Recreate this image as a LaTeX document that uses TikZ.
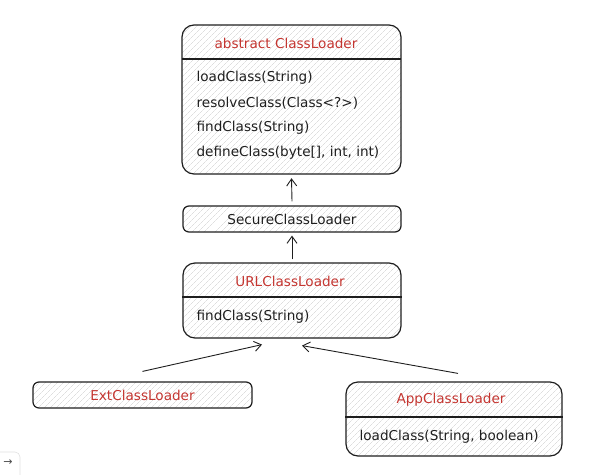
\documentclass[tikz,border=0pt]{standalone}
\usepackage{fontspec}
\setmainfont{DejaVu Sans}
\usetikzlibrary{arrows.meta,patterns.meta}
\definecolor{titlered}{HTML}{C43530}
\definecolor{ink}{HTML}{1E1E1E}

\begin{document}
\begin{tikzpicture}[x=1pt,y=-1pt,line width=1.2pt]
\tikzstyle{box}=[draw=ink,rounded corners=12pt,inner sep=0pt,pattern={Lines[angle=45,distance=4pt,line width=0.4pt]},pattern color=black!20];
\tikzstyle{small}=[box,rounded corners=6pt];
\tikzstyle{title}=[font=\fontsize{13.6}{16}\selectfont,text=titlered];
\tikzstyle{meth}=[font=\fontsize{13.6}{16}\selectfont,text=ink,anchor=west,inner sep=0pt];
\tikzstyle{sep}=[draw=ink,line width=1.1pt];
\tikzstyle{dir}=[-{Straight Barb[length=7pt,width=10pt]},draw=ink,line width=0.9pt];

\useasboundingbox (0,0) rectangle (605,474);

% ClassLoader
\node [box,minimum width=219pt,minimum height=149pt] (cl) at (291.5,99.5) {};
\node [title] (clname) at (286,43) {abstract ClassLoader};
\coordinate (clsep) at (0,59);
\draw [sep] (clsep -| cl.west) -- (clsep -| cl.east);
\node [meth] (cl1) at (196,78) {loadClass(String)};
\node [meth] (cl2) at (196,103) {resolveClass(Class<?>)};
\node [meth] (cl3) at (196,128) {findClass(String)};
\node [meth] (cl4) at (196,153) {defineClass(byte[], int, int)};

% SecureClassLoader
\node [small,minimum width=218pt,minimum height=26pt,font=\fontsize{13.6}{16}\selectfont,text=ink] (sec) at (292,219) {SecureClassLoader};

% URLClassLoader
\node [box,minimum width=218pt,minimum height=75pt] (url) at (292,300.5) {};
\node [title] (urlname) at (290,281) {URLClassLoader};
\coordinate (urlsep) at (0,297);
\draw [sep] (urlsep -| url.west) -- (urlsep -| url.east);
\node [meth] (url1) at (196,317) {findClass(String)};

% ExtClassLoader
\node [small,minimum width=219pt,minimum height=26pt] (ext) at (142.5,395) {};
\node [title] (extname) at (ext.center) {ExtClassLoader};

% AppClassLoader
\node [box,minimum width=216pt,minimum height=74pt] (app) at (454,419) {};
\node [title] (appname) at (451,400) {AppClassLoader};
\coordinate (appsep) at (0,417);
\draw [sep] (appsep -| app.west) -- (appsep -| app.east);
\node [meth] (app1) at (359,437) {loadClass(String, boolean)};

% inheritance
\draw [dir] ([yshift=4pt]sec.north) -- ([yshift=-4pt]cl.south);
\draw [dir] ([yshift=3pt]url.north) -- ([yshift=-3pt]sec.south);
\draw [dir] ([yshift=10pt]ext.north) -- ([xshift=-30pt,yshift=-6pt]url.south);
\draw [dir] ([xshift=4pt,yshift=8pt]app.north) -- ([xshift=10pt,yshift=-7pt]url.south);

% corner button
\draw [black!12,line width=0.6pt,rounded corners=5pt] (-5,452) -- (20,452) -- (20,480);
\node [font=\fontsize{11}{12}\selectfont,text=black!70] (go) at (8,463) {→};
\end{tikzpicture}
\end{document}
